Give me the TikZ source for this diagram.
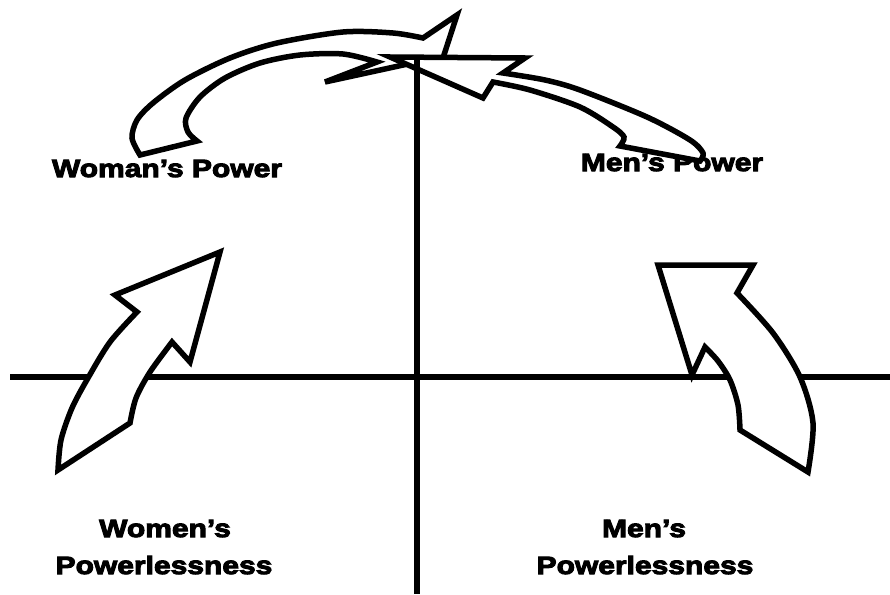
\documentclass[tikz,border=0pt]{standalone}
\usepackage{fontspec}
\newfontfamily\heavyfont{Liberation Sans Bold}[FakeBold=4,FakeStretch=1.2]
\tikzset{
  axisline/.style={line width=6pt},
  blockarrow/.style={line width=5.5pt, fill=white, line join=miter},
  powertext/.style={font=\heavyfont\fontsize{25}{30}\selectfont, inner sep=0pt, anchor=base},
}
\begin{document}
\begin{tikzpicture}[x=1pt, y=-1pt]
    \useasboundingbox (0,0) rectangle (890,594);

    % ===== axes =====
    \coordinate (axisW) at (10,377);
    \coordinate (axisE) at (890,377);
    \coordinate (axisN) at (417,58);
    \coordinate (axisS) at (417,594);
    \draw[axisline] (axisW) -- (axisE);

    % ===== labels =====
    \node[powertext] (womanPower) at (167,177) {Woman’s Power};
    \node[powertext] (menPower) at (672,171) {Men’s Power};
    \node[powertext] (womenTop) at (165,537) {Women’s};
    \node[powertext] (womenBottom) at (164,574) {Powerlessness};
    \node[powertext] (menTop) at (644,537) {Men’s};
    \node[powertext] (menBottom) at (645,574) {Powerlessness};

    % ===== lower arrows =====
    % women rising
    \draw[blockarrow] (58,470)
        -- plot[smooth] coordinates {(58,470) (61,440) (72,408) (88,378) (110,342) (137,312)}
        -- (115,295) -- (220,252) -- (190,362) -- (172,342)
        -- plot[smooth] coordinates {(172,342) (150,372) (136,398) (130,423)}
        -- cycle;
    % men rising
    \draw[blockarrow] (658,265) -- (753,265) -- (737,293)
        -- plot[smooth] coordinates {(737,293) (773,333) (800,377) (813,423) (808,472)}
        -- (740,430)
        -- plot[smooth] coordinates {(740,430) (738,405) (730,380) (718,361) (705,347)}
        -- (692,375) -- cycle;

    % ===== upper arrows =====
    % woman's power over the top
    \draw[blockarrow] (140,155)
        -- plot[smooth] coordinates {(140,155) (132,138) (137,120) (153,103) (185,80) (230,58) (277,43) (343,32) (393,33) (423,38)}
        -- (457,15) -- (443,58) -- (417,62) -- (325,82) -- (377,62)
        -- plot[smooth] coordinates {(377,62) (343,54) (300,55) (260,63) (225,78) (200,97) (186,118) (188,132) (197,141)}
        -- cycle;
    % men's power back to the top
    \draw[blockarrow] (390,57) -- (525,58) -- (503,73)
        -- plot[smooth] coordinates {(503,73) (545,80) (580,90) (647,117) (690,140) (703,153) (700,161)}
        -- (620,146)
        -- plot[smooth] coordinates {(620,146) (624,137) (613,127) (580,107) (530,90) (493,82)}
        -- (483,98) -- cycle;

    \draw[axisline] (axisN) -- (axisS);
\end{tikzpicture}
\end{document}
